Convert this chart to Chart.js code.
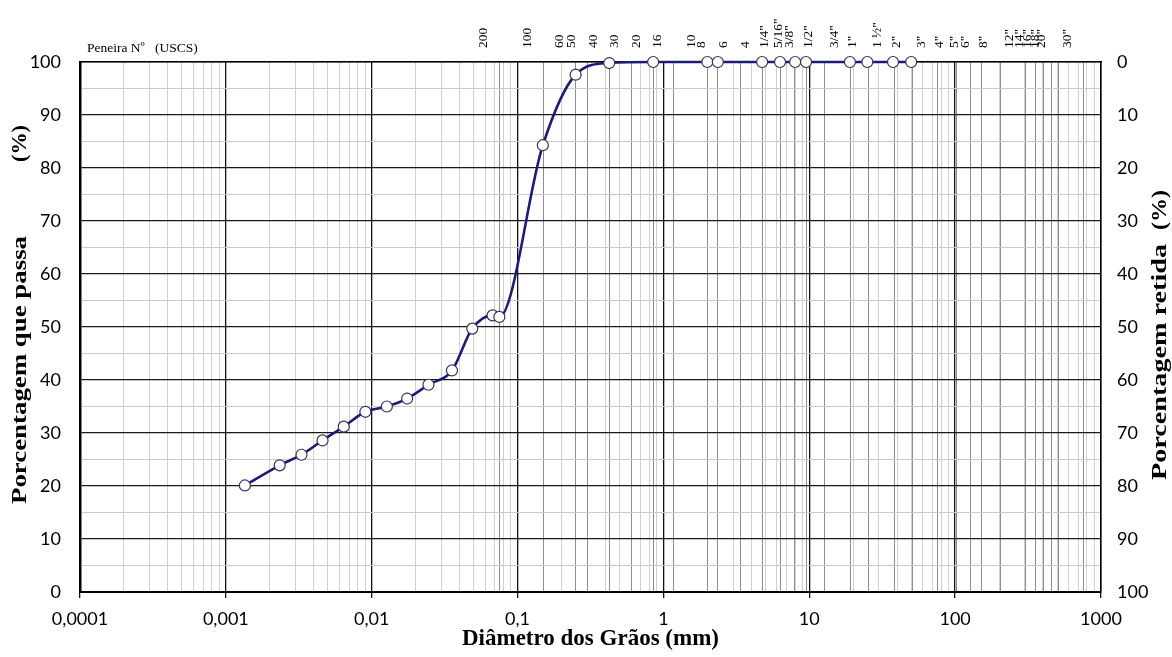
<!DOCTYPE html>
<html>
<head>
<meta charset="utf-8">
<title>Curva granulométrica</title>
<script src="https://cdn.jsdelivr.net/npm/chart.js@4.4.1/dist/chart.umd.min.js"></script>
<style>
    html, body { margin: 0; padding: 0; background: #fff; }
    #wrap { width: 1172px; height: 657px; }
</style>
</head>
<body>
<div id="wrap"><canvas id="curve" width="1172" height="657"></canvas></div>
<script>
// Grain size data
const diameters = [0.00135, 0.00234, 0.0033, 0.0046, 0.00643, 0.00905, 0.0127, 0.0175, 0.0245, 0.0355,
    0.0489, 0.0674, 0.075, 0.149, 0.25, 0.425, 0.85, 2.0, 2.36, 4.75, 6.3, 8.0, 9.5, 19, 25, 37.5, 50];
const passing = [20.1, 23.9, 25.9, 28.6, 31.2, 34.0, 35.0, 36.5, 39.1, 41.8,
    49.7, 52.2, 51.9, 84.3, 97.6, 99.8, 100, 100, 100, 100, 100, 100, 100, 100, 100, 100, 100];

// Sieve openings (mm) and their names, shown along the top
const sieveSizes = [0.075, 0.15, 0.25, 0.3, 0.425, 0.6, 0.85, 1.18, 2.0, 2.36, 3.35, 4.75,
    6.35, 7.94, 9.5, 12.7, 19.1, 25.4, 38.1, 50.8, 76.2, 101.6, 127, 152.4, 203.2,
    304.8, 355.6, 406.4, 457.2, 508, 762];
const sieveLabels = ['200', '100', '60', '50', '40', '30', '20', '16', '10', '8', '6', '4',
    '1/4"', '5/16"', '3/8"', '1/2"', '3/4"', '1"', '1 ½"', '2"', '3"', '4"', '5"', '6"', '8"',
    '12"', '14"', '16"', '18"', '20"', '30"'];

// Axis ticks
const decades = [0.0001, 0.001, 0.01, 0.1, 1, 10, 100, 1000];
const xTickLabels = ['0,0001', '0,001', '0,01', '0,1', '1', '10', '100', '1000'];

const SERIF = "'Liberation Serif', 'Times New Roman', serif";
const SANS = "Lato, 'Open Sans', sans-serif";

// Decade index of a value, or -1 for minor ticks
function decadeIndex(v) {
    return decades.findIndex(d => Math.abs(v / d - 1) < 1e-6);
}

// Caption above the sieve names and the two vertical axis titles
const textPlugin = {
    id: 'texts',
    afterDraw(chart) {
        const { ctx, chartArea } = chart;
        ctx.save();
        ctx.fillStyle = '#000';
        ctx.textBaseline = 'middle';
        ctx.font = '13.5px ' + SERIF;
        ctx.fillText('Peneira Nº   (USCS)', chartArea.left + 7, chartArea.top - 14);

        // Axis titles, reading bottom to top, stretched to the length seen in the picture
        ctx.font = 'bold 22px ' + SERIF;
        ctx.textAlign = 'left';
        const drawUp = (text, x, y, length) => {
            const w = ctx.measureText(text).width;
            ctx.save();
            ctx.translate(x, y);
            ctx.rotate(-Math.PI / 2);
            ctx.scale(length / w, 1);
            ctx.fillText(text, 0, 0);
            ctx.restore();
        };
        drawUp('Porcentagem que passa', 20, 504, 268);
        drawUp('(%)', 20, 162, 37);
        drawUp('Porcentagem retida', 1160, 480, 236);
        drawUp('(%)', 1160, 230, 40);
        ctx.restore();
    }
};

const ctx = document.getElementById('curve').getContext('2d');

new Chart(ctx, {
    type: 'line',
    data: {
        datasets: [{
            data: diameters.map((d, i) => ({ x: d, y: passing[i] })),
            borderColor: '#1c1c78',
            borderWidth: 2.6,
            cubicInterpolationMode: 'monotone',
            pointRadius: 5.5,
            pointBackgroundColor: '#ffffff',
            pointBorderColor: '#33335f',
            pointBorderWidth: 1.2,
            clip: false,
            xAxisID: 'x',
            yAxisID: 'y'
        }]
    },
    options: {
        responsive: false,
        animation: false,
        layout: { padding: 0 },
        plugins: {
            legend: { display: false },
            tooltip: { enabled: false }
        },
        scales: {
            x: {
                type: 'logarithmic',
                position: 'bottom',
                min: 0.0001,
                max: 1000,
                afterBuildTicks(scale) {
                    const ticks = [];
                    decades.forEach((d, i) => {
                        if (i === decades.length - 1) {
                            ticks.push({ value: d });
                            return;
                        }
                        for (let k = 1; k <= 9; k++) ticks.push({ value: d * k });
                    });
                    scale.ticks = ticks;
                },
                afterFit(scale) { scale.height = 65; },
                ticks: {
                    autoSkip: false,
                    maxRotation: 0,
                    padding: 10,
                    color: '#000',
                    font: { family: SANS, size: 18 },
                    callback(value) {
                        const i = decadeIndex(value);
                        return i >= 0 ? xTickLabels[i] : '';
                    }
                },
                grid: {
                    color: c => decadeIndex(c.tick.value) >= 0 ? '#111' : '#d2d2d2',
                    lineWidth: c => decadeIndex(c.tick.value) >= 0 ? 1.3 : 1,
                    tickColor: c => decadeIndex(c.tick.value) >= 0 ? '#111' : 'rgba(0,0,0,0)',
                    tickLength: 6
                },
                border: { color: '#000', width: 2 },
                title: {
                    display: true,
                    text: 'Diâmetro dos Grãos (mm)',
                    color: '#000',
                    font: { family: SERIF, size: 23, weight: 'bold' },
                    padding: { top: 0, bottom: 4 }
                }
            },
            x2: {
                type: 'logarithmic',
                position: 'top',
                min: 0.0001,
                max: 1000,
                afterBuildTicks(scale) {
                    scale.ticks = sieveSizes.map(v => ({ value: v }));
                },
                afterFit(scale) { scale.height = 62; },
                ticks: {
                    autoSkip: false,
                    minRotation: 90,
                    maxRotation: 90,
                    padding: 14,
                    color: '#000',
                    font: { family: SERIF, size: 13.5 },
                    callback: (value, index) => sieveLabels[index]
                },
                grid: {
                    color: '#8e8e8e',
                    lineWidth: 1,
                    drawTicks: false
                },
                border: { color: '#000', width: 1.5 }
            },
            y: {
                position: 'left',
                min: 0,
                max: 100,
                afterFit(scale) { scale.width = 80; },
                ticks: {
                    stepSize: 5,
                    padding: 19,
                    color: '#000',
                    font: { family: SANS, size: 18 },
                    callback: v => (v % 10 === 0 ? v : '')
                },
                grid: {
                    color: c => c.tick.value % 10 === 0 ? '#1a1a1a' : '#cacaca',
                    lineWidth: c => c.tick.value % 10 === 0 ? 1.2 : 1,
                    drawTicks: false
                },
                border: { color: '#000', width: 2.5 }
            },
            y2: {
                position: 'right',
                min: 0,
                max: 100,
                reverse: true,
                afterFit(scale) { scale.width = 71; },
                ticks: {
                    stepSize: 10,
                    padding: 16,
                    color: '#000',
                    font: { family: SANS, size: 18 }
                },
                grid: { drawOnChartArea: false, drawTicks: false },
                border: { color: '#000', width: 1.5 }
            }
        }
    },
    plugins: [textPlugin]
});
</script>
</body>
</html>
